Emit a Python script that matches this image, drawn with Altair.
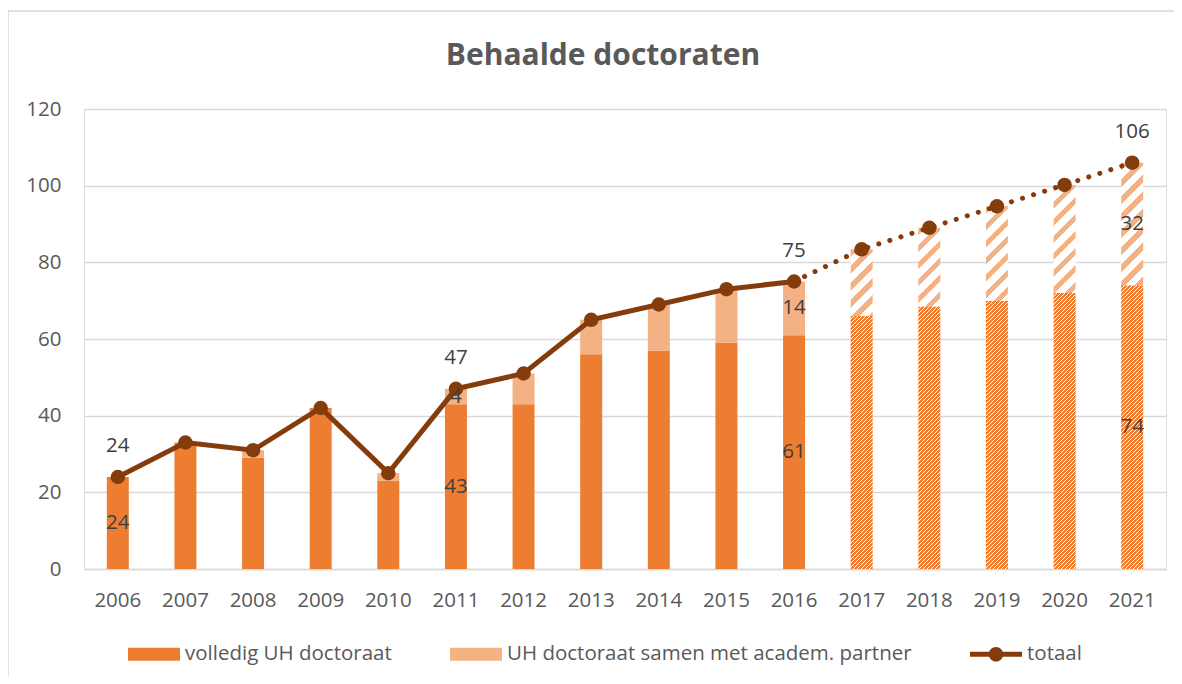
import altair as alt
import pandas as pd

# ---------------- data ----------------
years = [str(y) for y in range(2006, 2022)]
full = [24, 33, 29, 42, 23, 43, 43, 56, 57, 59, 61, 66, 68.5, 70, 72, 74]
partner = [0, 0, 2, 0, 2, 4, 8, 9, 12, 14, 14, 17.4, 20.5, 24.6, 28.2, 32]
forecast_from = "2017"
last_actual = "2016"
labeled_years = ["2006", "2011", "2016", "2021"]
y_ticks = [0, 20, 40, 60, 80, 100, 120]
series = ["volledig UH doctoraat", "UH doctoraat samen met academ. partner", "totaal"]
title_text = "Behaalde doctoraten"

# ---------------- style ----------------
ORANGE = "#ED7D31"
LIGHT = "#F4B183"
BROWN = "#843C0C"
GRID = "#D9D9D9"
AXIS_TXT = "#595959"
LBL_TXT = "#404040"
FONT = "Open Sans"
FS = 20.5

W, H = 1082, 460
P_INNER = 0.675
STEP = W / len(years)
BAR_W = STEP * (1 - P_INNER)
PX_PER_UNIT = H / 120.0

df = pd.DataFrame({"year": years, "full": full, "partner": partner})
df["total"] = df["full"] + df["partner"]
df["proj"] = df["year"] >= forecast_from
df["lab"] = df["year"].isin(labeled_years)


def hatch(value, period, frac, color):
    h = max(value * PX_PER_UNIT, 1.0)
    L = BAR_W + h
    k = L / (BAR_W ** 2 + h ** 2)
    stops = []
    s = 0.0
    while s < L - 1e-9:
        a = s / L
        b = min((s + frac * period) / L, 1.0)
        c = min((s + period) / L, 1.0)
        stops += [
            {"offset": round(a, 5), "color": color},
            {"offset": round(b, 5), "color": color},
            {"offset": round(b, 5), "color": "#ffffff"},
            {"offset": round(c, 5), "color": "#ffffff"},
        ]
        s += period
    return {"gradient": "linear", "x1": 0, "y1": 0,
            "x2": k * BAR_W, "y2": k * h, "stops": stops}


X = alt.X("year:O", title=None,
          scale=alt.Scale(domain=years, paddingInner=P_INNER, paddingOuter=P_INNER / 2),
          axis=alt.Axis(labelAngle=0, labelFont=FONT, labelFontSize=FS, labelColor=AXIS_TXT,
                        labelPadding=21, ticks=False, domain=True, domainColor=GRID,
                        domainWidth=1.5, grid=False))
YS = alt.Scale(domain=[0, 120], nice=False)
Y_AX = alt.Axis(values=y_ticks, title=None, labelFont=FONT, labelFontSize=FS,
                labelColor=AXIS_TXT, labelPadding=23, ticks=False, domain=False,
                grid=True, gridColor=GRID, gridWidth=1.3)

base = alt.Chart(df)

frame = alt.Chart(pd.DataFrame({"a": [0]})).mark_rect(
    fill="transparent", stroke=GRID, strokeWidth=1.5
).encode(x=alt.value(-76), x2=alt.value(W + 40), y=alt.value(-98), y2=alt.value(H + 140))

bars_full = base.transform_filter("!datum.proj").mark_bar(color=ORANGE).encode(
    x=X, y=alt.Y("full:Q", scale=YS, axis=Y_AX))
bars_part = base.transform_filter("!datum.proj").mark_bar(color=LIGHT).encode(
    x=X, y=alt.Y("full:Q", scale=YS), y2="total:Q")

hatched = []
for yr, f, p in zip(years, full, partner):
    if yr < forecast_from:
        continue
    hatched.append(
        base.transform_filter(alt.datum.year == yr)
        .mark_bar(fill=hatch(f, 4.0, 0.7, ORANGE))
        .encode(x=X, y=alt.Y("full:Q", scale=YS))
    )
    hatched.append(
        base.transform_filter(alt.datum.year == yr)
        .mark_bar(fill=hatch(p, 17.0, 0.42, LIGHT))
        .encode(x=X, y=alt.Y("full:Q", scale=YS), y2="total:Q")
    )

line_solid = base.transform_filter(alt.datum.year <= last_actual).mark_line(
    color=BROWN, strokeWidth=5).encode(x=X, y=alt.Y("total:Q", scale=YS))
line_dot = base.transform_filter(alt.datum.year >= last_actual).mark_line(
    color=BROWN, strokeWidth=5, strokeDash=[0.1, 11.5], strokeCap="round").encode(
    x=X, y=alt.Y("total:Q", scale=YS))
points = base.mark_circle(color=BROWN, size=210, opacity=1).encode(
    x=X, y=alt.Y("total:Q", scale=YS))

txt = dict(font=FONT, fontSize=FS, color=LBL_TXT)
lab_total = base.transform_filter("datum.lab").mark_text(dy=-31, **txt).encode(
    x=X, y=alt.Y("total:Q", scale=YS), text=alt.Text("total:Q", format=".0f"))
lab_full = base.transform_filter("datum.lab").transform_calculate(
    ym="datum.full / 2").mark_text(**txt).encode(
    x=X, y=alt.Y("ym:Q", scale=YS), text=alt.Text("full:Q", format=".0f"))
lab_part = base.transform_filter("datum.lab && datum.partner > 0").transform_calculate(
    ym="datum.full + datum.partner / 2").mark_text(**txt).encode(
    x=X, y=alt.Y("ym:Q", scale=YS), text=alt.Text("partner:Q", format=".0f"))

RECT = "M-1,-0.25H1V0.25H-1Z"
LINEDOT = "M-1,-0.1H1V0.1H-1Z M-0.28,0A0.28,0.28 0 1,1 0.28,0A0.28,0.28 0 1,1 -0.28,0Z"
leg_kw = dict(title=None, orient="none", legendX=44, legendY=519, direction="horizontal",
              symbolSize=2704, symbolStrokeWidth=0, labelFont=FONT, labelFontSize=FS,
              labelColor=AXIS_TXT, labelOffset=5, columnPadding=58, padding=0,
              labelLimit=600)
legend_layer = alt.Chart(pd.DataFrame({"series": series})).transform_filter("false").mark_point(
    filled=True, opacity=1).encode(
    color=alt.Color("series:N", scale=alt.Scale(domain=series, range=[ORANGE, LIGHT, BROWN]),
                    legend=alt.Legend(**leg_kw)),
    shape=alt.Shape("series:N", scale=alt.Scale(domain=series, range=[RECT, RECT, LINEDOT]),
                    legend=alt.Legend(**leg_kw)),
)

chart = alt.layer(
    frame, bars_full, bars_part, *hatched, line_solid, line_dot, points,
    lab_total, lab_full, lab_part, legend_layer
).properties(
    width=W, height=H,
    title=alt.TitleParams(title_text, font=FONT, fontSize=30, fontWeight="bold",
                          color=AXIS_TXT, anchor="middle", dx=-22, offset=0,
                          baseline="alphabetic", dy=85),
    autosize=alt.AutoSizeParams(type="none"),
    padding={"left": 76, "top": 101, "right": 8, "bottom": 107},
).configure_view(stroke=None).configure(background="white")

chart.save("out.html", embed_options={"renderer": "svg", "actions": False})
